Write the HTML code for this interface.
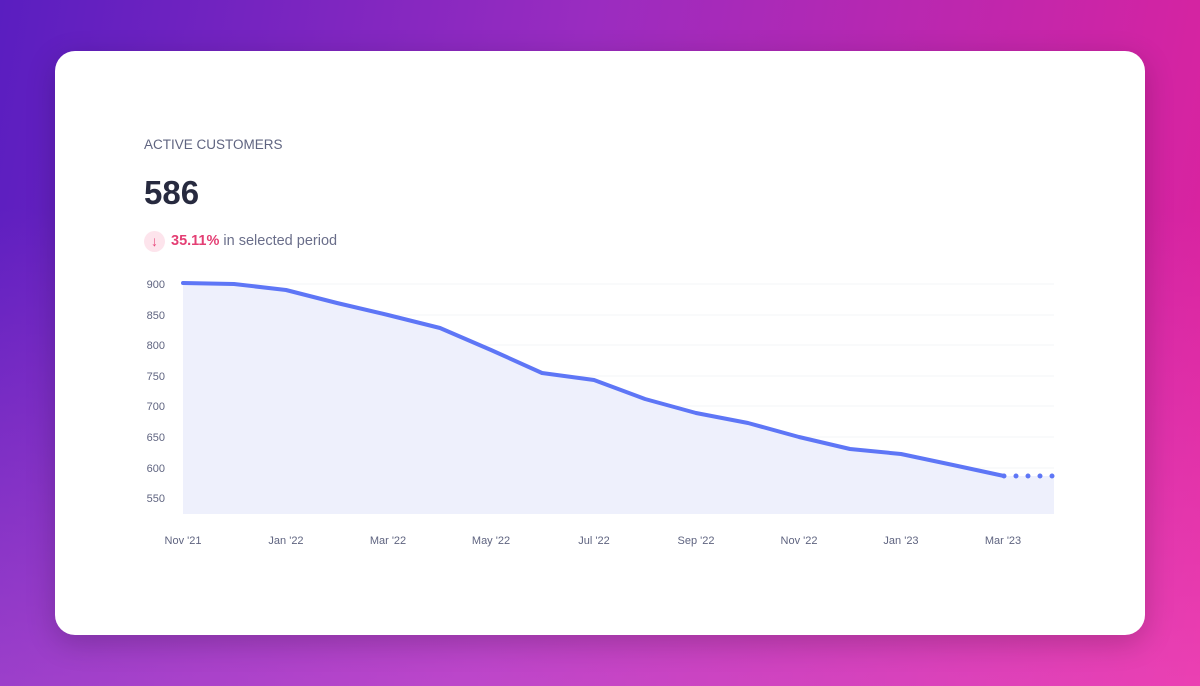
<!DOCTYPE html>
<html><head><style>
html,body{margin:0;padding:0;width:1200px;height:686px;overflow:hidden}
body{background:linear-gradient(100deg,#5a1ec0 0%,#9a2cc0 45%,#e0229c 100%);position:relative;font-family:"Liberation Sans",sans-serif}
.ov{position:absolute;inset:0;background:linear-gradient(180deg,rgba(255,255,255,0) 30%,rgba(255,120,220,0.35) 100%)}
.card{position:absolute;left:55px;top:51px;width:1090px;height:584px;background:#fff;border-radius:20px;box-shadow:0 8px 30px rgba(0,0,0,0.2)}
.t{position:absolute;left:89px;top:86px;font-size:13.5px;color:#5f6480;letter-spacing:0px}
.n{position:absolute;left:89px;top:123px;font-size:33px;font-weight:bold;color:#272a3f}
.b{position:absolute;left:89px;top:180px;width:21px;height:21px;border-radius:50%;background:#fde4ec;color:#e8457a;font-size:14px;text-align:center;line-height:21px;font-weight:bold}
.p{position:absolute;left:116px;top:182px;font-size:14.5px;color:#6a6e8a}
.p b{color:#e43f74}
</style></head><body><div class="ov"></div>
<div class="card">
<div class="t">ACTIVE CUSTOMERS</div>
<div class="n">586</div>
<div class="b">↓</div>
<div class="p"><b>35.11%</b> in selected period</div>
</div>
<svg width="1200" height="686" style="position:absolute;left:0;top:0" font-family="Liberation Sans, sans-serif">
<g stroke="#f3f4f7" stroke-width="1">
<line x1="183" x2="1054" y1="284" y2="284"/><line x1="183" x2="1054" y1="315" y2="315"/><line x1="183" x2="1054" y1="345" y2="345"/><line x1="183" x2="1054" y1="376" y2="376"/><line x1="183" x2="1054" y1="406" y2="406"/><line x1="183" x2="1054" y1="437" y2="437"/><line x1="183" x2="1054" y1="468" y2="468"/><line x1="183" x2="1054" y1="498" y2="498"/>
</g>
<polygon fill="#eef0fc" points="183,283 234,284 286,290 337,303 388,315 440,328 491,350 542,373 594,380 645,399 696,413 748,423 799,437 850,449 901,454 953,465 1004,476 1054,476 1054,514 183,514"/>
<polyline fill="none" stroke="#5e76f6" stroke-width="4" stroke-linejoin="round" stroke-linecap="round" points="183,283 234,284 286,290 337,303 388,315 440,328 491,350 542,373 594,380 645,399 696,413 748,423 799,437 850,449 901,454 953,465 1004,476"/>
<line x1="1004" y1="476" x2="1054" y2="476" stroke="#5e76f6" stroke-width="5" stroke-linecap="round" stroke-dasharray="0,12"/>
<g font-size="11" fill="#5f6480" text-anchor="end">
<text x="165" y="288">900</text><text x="165" y="319">850</text><text x="165" y="349">800</text><text x="165" y="380">750</text><text x="165" y="410">700</text><text x="165" y="441">650</text><text x="165" y="472">600</text><text x="165" y="502">550</text>
</g>
<g font-size="11" fill="#5f6480" text-anchor="middle">
<text x="183" y="544">Nov '21</text><text x="286" y="544">Jan '22</text><text x="388" y="544">Mar '22</text><text x="491" y="544">May '22</text><text x="594" y="544">Jul '22</text><text x="696" y="544">Sep '22</text><text x="799" y="544">Nov '22</text><text x="901" y="544">Jan '23</text><text x="1003" y="544">Mar '23</text>
</g>
</svg>
</body></html>
